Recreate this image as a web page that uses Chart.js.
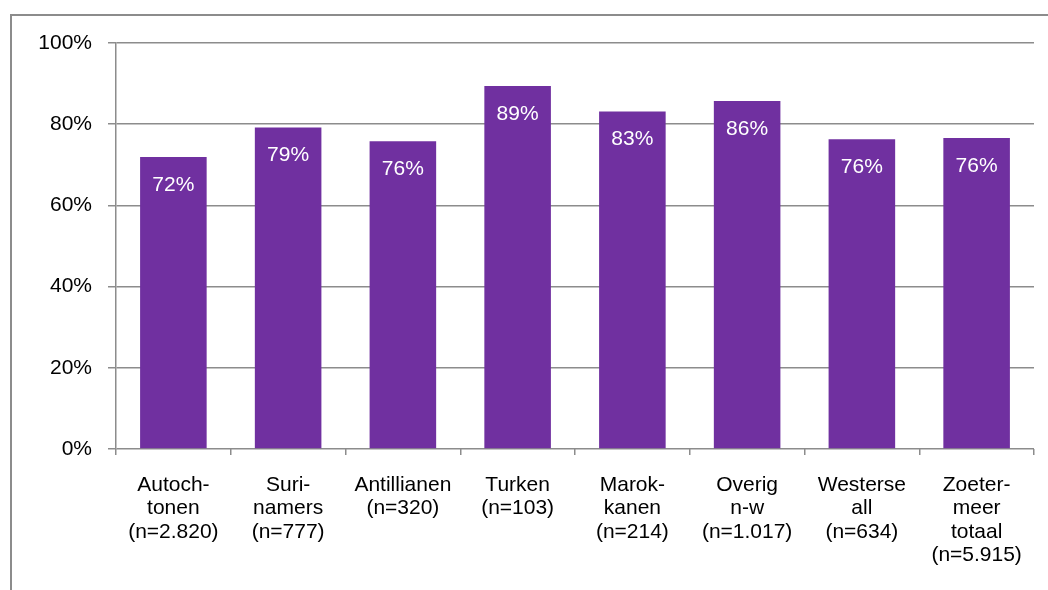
<!DOCTYPE html>
<html>
<head>
<meta charset="utf-8">
<script src="https://cdn.jsdelivr.net/npm/chart.js@4/dist/chart.umd.min.js"></script>
<style>
  body { margin: 0; background: #fff; }
  #wrap { position: relative; width: 1048px; height: 590px; }
  #frame { position: absolute; left: 10px; top: 14px; right: 0; bottom: 0;
           border-top: 2px solid #8c8c8c; border-left: 2px solid #8c8c8c; }
  canvas { position: absolute; left: 0; top: 0; }
</style>
</head>
<body>
<div id="wrap">
  <div id="frame"></div>
  <canvas id="grafiek" width="1048" height="590"></canvas>
</div>
<script>
const groepen = [
    ["Autoch-", "tonen", "(n=2.820)"],
    ["Suri-", "namers", "(n=777)"],
    ["Antillianen", "(n=320)"],
    ["Turken", "(n=103)"],
    ["Marok-", "kanen", "(n=214)"],
    ["Overig", "n-w", "(n=1.017)"],
    ["Westerse", "all", "(n=634)"],
    ["Zoeter-", "meer", "totaal", "(n=5.915)"]
];
const percentages = [71.9, 79.2, 75.8, 89.4, 83.1, 85.7, 76.3, 76.6];
const labelTeksten = ["72%", "79%", "76%", "89%", "83%", "86%", "76%", "76%"];
const yTicks = [0, 20, 40, 60, 80, 100];

const paars = "#7030a0";
const grijs = "#8c8c8c";
const lettertype = "'Liberation Sans', Arial, sans-serif";

// labels binnen de balk, bovenaan
const balkLabels = {
    id: "balkLabels",
    afterDatasetsDraw(chart) {
        const ctx = chart.ctx;
        const meta = chart.getDatasetMeta(0);
        ctx.save();
        ctx.fillStyle = "#ffffff";
        ctx.font = "21px " + lettertype;
        ctx.textAlign = "center";
        ctx.textBaseline = "middle";
        meta.data.forEach((bar, i) => {
            ctx.fillText(labelTeksten[i], bar.x, bar.y + 28);
        });
        ctx.restore();
    }
};

const ctx = document.getElementById("grafiek").getContext("2d");
const grafiek = new Chart(ctx, {
    type: "bar",
    data: {
        labels: groepen,
        datasets: [{
            data: percentages,
            backgroundColor: paars,
            barPercentage: 0.58,
            categoryPercentage: 1
        }]
    },
    options: {
        responsive: false,
        animation: false,
        layout: { padding: { top: 43, right: 14, left: 0, bottom: 0 } },
        plugins: {
            legend: { display: false },
            tooltip: { enabled: false }
        },
        scales: {
            x: {
                grid: {
                    offset: true,
                    drawOnChartArea: false,
                    tickLength: 6,
                    color: grijs,
                    lineWidth: 1.5
                },
                border: { display: false },
                ticks: {
                    color: "#000",
                    padding: 19,
                    maxRotation: 0,
                    autoSkip: false,
                    font: { family: lettertype, size: 21, lineHeight: 1.1 }
                },
                afterFit: s => { s.height = 141; }
            },
            y: {
                min: 0,
                max: 100,
                afterBuildTicks: s => { s.ticks = yTicks.map(v => ({ value: v })); },
                grid: {
                    color: grijs,
                    lineWidth: 1.5,
                    tickLength: 8
                },
                border: { color: grijs, width: 1.5 },
                ticks: {
                    color: "#000",
                    padding: 16,
                    callback: v => v + "%",
                    font: { family: lettertype, size: 21 }
                },
                afterFit: s => { s.width = 116; }
            }
        }
    },
    plugins: [balkLabels]
});
</script>
</body>
</html>
